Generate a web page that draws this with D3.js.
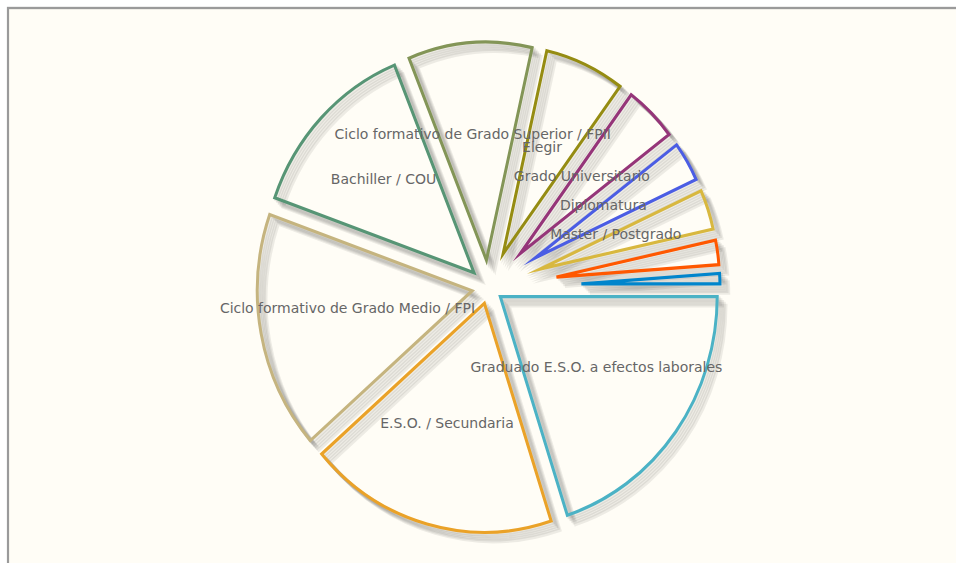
<!DOCTYPE html>
<html><head><meta charset="utf-8">
<script src="https://cdn.jsdelivr.net/npm/d3@7"></script>
<style>html,body{margin:0;padding:0;background:#fff;overflow:hidden}</style>
</head><body>
<svg id="chart" width="956" height="563"></svg>
<script>
const categories = ["Graduado E.S.O. a efectos laborales", "E.S.O. / Secundaria", "Ciclo formativo de Grado Medio / FPI", "Bachiller / COU", "Ciclo formativo de Grado Superior / FPII", "Elegir", "Grado Universitario", "Diplomatura", "Master / Postgrado", "Doctorado", "Sin estudios"];
const values = [70, 65, 59, 47, 34, 23, 16, 12, 12, 8, 4];
const colors = ["#4bb2c5", "#EAA228", "#c5b47f", "#579575", "#839557", "#958c12", "#953579", "#4b5de4", "#d8b83f", "#ff5800", "#0085cc"];

const sy = 1.06;
const cx = 488.5, cy = 271.2, R = 231.5, k = 9, lineW = 3;
const labelFactor = 139, labelShiftX = -4.5, labelShiftY = -6.5, threshold = 0.03;

const svg = d3.select('#chart');
const root = svg.append('g').attr('transform', `scale(1,${sy})`);
root.append('rect').attr('x', 8).attr('y', 8 / sy).attr('width', 1200).attr('height', 800)
  .attr('fill', '#fffdf6').attr('stroke', '#9a9a9a').attr('stroke-width', 2.2);

const total = d3.sum(values);
const pie = d3.pie().sort(null).value(d => d).startAngle(Math.PI / 2).endAngle(Math.PI / 2 + 2 * Math.PI);
const arcs = pie(values);
function adj(t) { return Math.sin((t - (t - Math.PI) / 8 / Math.PI) / 2); }
arcs.forEach(a => {
  const t = a.endAngle - a.startAngle, m = (a.startAngle + a.endAngle) / 2;
  const rp = k / adj(t);
  a.mid = m;
  a.dx = rp * Math.sin(m); a.dy = -rp * Math.cos(m);
  a.r = t <= Math.PI ? R - rp : R + rp;
});
const arcGen = d3.arc().innerRadius(0);
const g = root.append('g').attr('transform', `translate(${cx},${cy})`);

for (let j = 1; j <= 5; j++) {
  g.append('g').selectAll('path').data(arcs).join('path')
    .attr('transform', a => `translate(${a.dx + j * 1.7},${a.dy + j * 1.7})`)
    .attr('d', a => arcGen.outerRadius(a.r)(a))
    .attr('fill', 'none').attr('stroke', 'rgba(0,0,0,0.07)').attr('stroke-width', 3.6)
    .attr('stroke-miterlimit', 10);
}
g.append('g').selectAll('path').data(arcs).join('path')
  .attr('transform', a => `translate(${a.dx},${a.dy})`)
  .attr('d', a => arcGen.outerRadius(a.r)(a))
  .attr('fill', 'none').attr('stroke', (a, i) => colors[i]).attr('stroke-width', lineW)
  .attr('stroke-miterlimit', 10);

root.append('g').selectAll('text').data(arcs.filter(a => a.data / total >= threshold)).join('text')
  .attr('x', a => cx + labelShiftX + labelFactor * Math.sin(a.mid))
  .attr('y', a => cy + labelShiftY - labelFactor * Math.cos(a.mid))
  .attr('dy', '0.35em').attr('text-anchor', 'middle')
  .attr('font-family', 'DejaVu Sans').attr('font-size', 14).attr('fill', '#666')
  .text(a => categories[a.index]);
</script>
</body></html>
